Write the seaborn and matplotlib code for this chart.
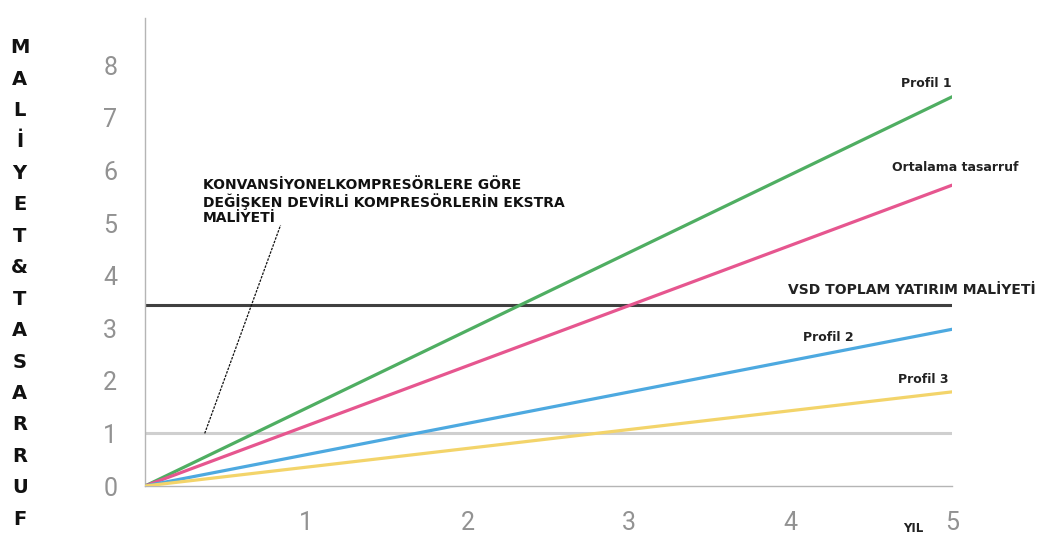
import numpy as np
import pandas as pd
import matplotlib.pyplot as plt
import seaborn as sns

# values
yil = [0, 5]
profil_1 = [0, 7.40]
ortalama = [0, 5.72]
profil_2 = [0, 2.98]
profil_3 = [0, 1.79]
vsd_toplam = 3.44
ekstra_maliyet = 1.0

x_ticks = [1, 2, 3, 4, 5]
y_ticks = [0, 1, 2, 3, 4, 5, 6, 7, 8]

series = {
    'Profil 1': profil_1,
    'Ortalama tasarruf': ortalama,
    'Profil 2': profil_2,
    'Profil 3': profil_3,
}
colors = {
    'Profil 1': '#4fae62',
    'Ortalama tasarruf': '#e6568f',
    'Profil 2': '#4da9e0',
    'Profil 3': '#f3d46a',
}

df = pd.DataFrame([
    {'yil': x, 'deger': v, 'seri': name}
    for name, vals in series.items() for x, v in zip(yil, vals)
])

sns.set_style('white')
plt.rcParams['font.family'] = ['DejaVu Sans']

fig = plt.figure(figsize=(10.37, 5.58), dpi=100)
ax = fig.add_axes([0.1398, 0.129, 0.7784, 0.839])

# reference lines
ax.hlines(ekstra_maliyet, 0, 5, color='#cfcfcf', linewidth=2.2, zorder=1)
ax.hlines(vsd_toplam, 0, 5, color='#404040', linewidth=2.2, zorder=2)

sns.lineplot(data=df, x='yil', y='deger', hue='seri', palette=colors,
             linewidth=2.3, legend=False, ax=ax, zorder=3)

ax.set_xlim(0, 5)
ax.set_ylim(0, 8.9)
ax.set_xticks(x_ticks)
ax.set_yticks(y_ticks)
ax.set_xlabel('')
ax.set_ylabel('')

for s in ['top', 'right']:
    ax.spines[s].set_visible(False)
for s in ['left', 'bottom']:
    ax.spines[s].set_color('#b5b5b5')
    ax.spines[s].set_linewidth(1.0)
ax.tick_params(axis='both', colors='#b5b5b5', labelcolor='#929292',
               labelsize=18, length=8, width=1.0, direction='out')
ax.tick_params(axis='x', pad=10)
ax.tick_params(axis='y', pad=12)
for lbl in ax.get_xticklabels() + ax.get_yticklabels():
    lbl.set_fontfamily(['Roboto', 'DejaVu Sans'])
    lbl.set_fontweight('normal')

# line labels
lab = dict(fontsize=9, fontweight='bold', color='#222222', ha='center', va='center')
ax.text(4.84, 7.66, 'Profil 1', **lab)
ax.text(5.02, 6.05, 'Ortalama tasarruf', **lab)
ax.text(4.75, 3.72, 'VSD TOPLAM YATIRIM MALİYETİ', fontsize=10, fontweight='bold',
        color='#222222', ha='center', va='center')
ax.text(4.23, 2.83, 'Profil 2', **lab)
ax.text(4.82, 2.02, 'Profil 3', **lab)
ax.text(4.76, -0.80, 'YIL', fontsize=8.5, fontweight='bold', color='#222222',
        ha='center', va='center', clip_on=False)

# annotation for extra cost
ax.text(0.36, 5.86, 'KONVANSİYONELKOMPRESÖRLERE GÖRE\n'
        'DEĞİŞKEN DEVİRLİ KOMPRESÖRLERİN EKSTRA\nMALİYETİ',
        fontsize=10, fontweight='bold', color='#111111', ha='left', va='top',
        linespacing=1.1)
ax.plot([0.37, 0.84], [ekstra_maliyet, 4.96], color='#111111',
        linewidth=0.9, linestyle=(0, (2, 1)), zorder=4)

# vertical stacked y label
fig.text(0.019, 0.492, '\n'.join('MALİYET&TASARRUF'), ha='center', va='center',
         fontsize=14, fontweight='bold', color='#111111', linespacing=1.83,
         family=['Liberation Sans Narrow', 'DejaVu Sans'])

fig.savefig('out.png', dpi=100)
